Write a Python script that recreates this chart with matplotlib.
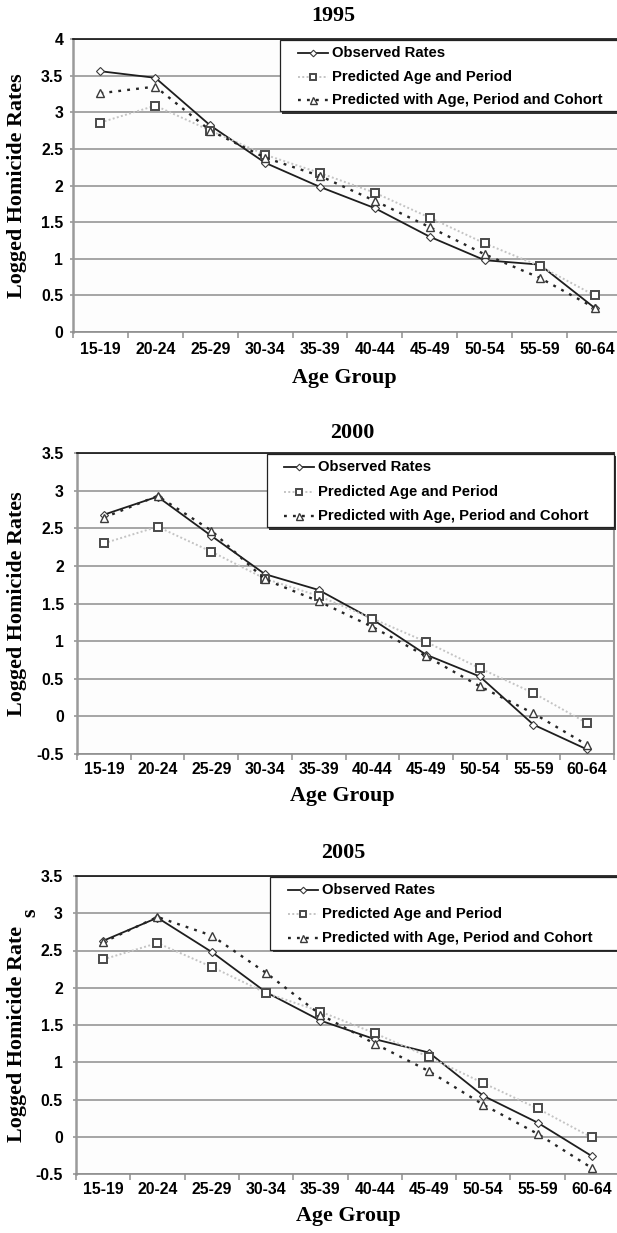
import matplotlib
matplotlib.use("Agg")
import matplotlib.pyplot as plt
from matplotlib.patches import Rectangle
from matplotlib.lines import Line2D

W, H = 617, 1233

age_groups = ["15-19", "20-24", "25-29", "30-34", "35-39",
              "40-44", "45-49", "50-54", "55-59", "60-64"]

years = ["1995", "2000", "2005"]

observed_1995 = [3.56, 3.47, 2.82, 2.31, 1.98, 1.69, 1.30, 0.98, 0.92, 0.33]
age_period_1995 = [2.86, 3.09, 2.75, 2.42, 2.17, 1.90, 1.56, 1.21, 0.90, 0.50]
apc_1995 = [3.26, 3.35, 2.75, 2.38, 2.13, 1.79, 1.43, 1.06, 0.74, 0.33]

observed_2000 = [2.68, 2.92, 2.40, 1.89, 1.68, 1.29, 0.82, 0.53, -0.11, -0.44]
age_period_2000 = [2.30, 2.52, 2.19, 1.83, 1.60, 1.30, 0.99, 0.64, 0.31, -0.09]
apc_2000 = [2.64, 2.93, 2.47, 1.82, 1.53, 1.19, 0.80, 0.40, 0.04, -0.38]

observed_2005 = [2.63, 2.94, 2.48, 1.94, 1.56, 1.31, 1.13, 0.55, 0.19, -0.26]
age_period_2005 = [2.38, 2.60, 2.28, 1.93, 1.68, 1.39, 1.07, 0.72, 0.38, -0.01]
apc_2005 = [2.61, 2.95, 2.70, 2.20, 1.64, 1.25, 0.88, 0.43, 0.04, -0.42]

yticks_1995 = [0, 0.5, 1, 1.5, 2, 2.5, 3, 3.5, 4]
yticks_later = [-0.5, 0, 0.5, 1, 1.5, 2, 2.5, 3, 3.5]
ytick_labels_1995 = ["0", "0.5", "1", "1.5", "2", "2.5", "3", "3.5", "4"]
ytick_labels_later = ["-0.5", "0", "0.5", "1", "1.5", "2", "2.5", "3", "3.5"]

legend_labels = ["Observed Rates", "Predicted Age and Period",
                 "Predicted with Age, Period and Cohort"]

SANS = ["Liberation Sans", "DejaVu Sans"]
SERIF = ["Liberation Serif", "DejaVu Serif"]

fig = plt.figure(figsize=(W / 100, H / 100), dpi=100)
fig.patch.set_facecolor("white")


def rect(l, r, t, b):
    return [l / W, 1 - b / H, (r - l) / W, (b - t) / H]


def fx(x):
    return x / W


def fy(y):
    return 1 - y / H


styles = [
    dict(color="#1e1e1e", lw=1.3, ls="-", marker="D", ms=4.2, mfc="white",
         mec="#3a3a3a", mew=0.8),
    dict(color="#c4c4c4", lw=1.4, ls=(0, (1, 1.2)), marker="s", ms=6.2,
         mfc="white", mec="#4a4a4a", mew=1.4),
    dict(color="#262626", lw=1.7, ls=(0, (1.2, 2.6)), marker="^", ms=6.3,
         mfc="white", mec="#3a3a3a", mew=1.0),
]

panels = [
    dict(box=(73, 622, 39, 332), ylim=(0, 4), yticks=yticks_1995,
         ylabels=ytick_labels_1995,
         series=[observed_1995, age_period_1995, apc_1995],
         title=years[0], title_xy=(333, 16), xlab_xy=(344, 378),
         ylab_xy=(17, 186), leg_left=0.377, xpad=7.5, ypad=4.5),
    dict(box=(77, 614, 453, 754), ylim=(-0.5, 3.5), yticks=yticks_later,
         ylabels=ytick_labels_later,
         series=[observed_2000, age_period_2000, apc_2000],
         title=years[1], title_xy=(352, 433), xlab_xy=(342, 796),
         ylab_xy=(17, 604), leg_left=0.354, xpad=6.0, ypad=7.0),
    dict(box=(76, 619, 876, 1174), ylim=(-0.5, 3.5), yticks=yticks_later,
         ylabels=ytick_labels_later,
         series=[observed_2005, age_period_2005, apc_2005],
         title=years[2], title_xy=(343, 853), xlab_xy=(348, 1216),
         ylab_xy=(17, 1034), leg_left=0.358, xpad=6.0, ypad=7.0),
]

grid_col = "#8e8e8e"
xpos = list(range(len(age_groups)))

for i, p in enumerate(panels):
    ax = fig.add_axes(rect(*p["box"]))
    ax.set_facecolor("#fdfdfd")
    ax.set_xlim(-0.5, len(age_groups) - 0.5)
    ax.set_ylim(*p["ylim"])

    for yv in p["yticks"]:
        ax.axhline(yv, color=grid_col, lw=1.1, zorder=1)

    for s, st in zip(p["series"], styles):
        ax.plot(xpos, s, zorder=3, clip_on=False, **st)

    ax.set_xticks(xpos)
    ax.set_xticklabels(age_groups, fontfamily=SANS, fontweight="bold",
                       fontsize=11.4)
    ax.set_xticks([x - 0.5 for x in range(len(age_groups) + 1)], minor=True)
    ax.tick_params(axis="x", which="major", length=0, pad=p["xpad"])
    ax.tick_params(axis="x", which="minor", length=4.5, width=1.1,
                   color=grid_col, direction="out")
    ax.set_yticks(p["yticks"])
    ax.set_yticklabels(p["ylabels"], fontfamily=SANS, fontweight="bold",
                       fontsize=11.4)
    ax.tick_params(axis="y", length=2.5, width=1.1, color=grid_col,
                   pad=p["ypad"])

    ax.spines["left"].set_color("#9a9a9a")
    ax.spines["left"].set_linewidth(1.8)
    ax.spines["bottom"].set_color(grid_col)
    ax.spines["bottom"].set_linewidth(1.2)
    ax.spines["top"].set_color("#111111")
    ax.spines["top"].set_linewidth(1.2)
    ax.spines["right"].set_color("#9a9a9a")
    ax.spines["right"].set_linewidth(1.5)

    # legend box
    left = p["leg_left"]
    top, bottom = 0.997, 0.753
    right = 1.2
    shadow = Rectangle((left + 0.004, bottom - 0.008), right - left,
                       top - bottom, transform=ax.transAxes,
                       facecolor="#333333", edgecolor="none", zorder=5,
                       clip_on=False)
    box = Rectangle((left, bottom), right - left, top - bottom,
                    transform=ax.transAxes, facecolor="white",
                    edgecolor="#222222", lw=0.9, zorder=6, clip_on=False)
    ax.add_patch(shadow)
    ax.add_patch(box)
    if i == 1:
        # right border visible for the middle panel
        box.set_width(1.0 - left)
        shadow.set_width(1.0 - left)
    rows = [0.953, 0.872, 0.792]
    for ry, st, lab in zip(rows, styles, legend_labels):
        hx0, hx1 = left + 0.032, left + 0.088
        ln = Line2D([hx0, hx1], [ry, ry], transform=ax.transAxes,
                    color=st["color"], lw=st["lw"], ls=st["ls"], zorder=7,
                    clip_on=False)
        mk = Line2D([(hx0 + hx1) / 2], [ry], transform=ax.transAxes,
                    marker=st["marker"], ms=st["ms"] * 0.8, mfc="white",
                    mec=st["mec"], mew=st["mew"], ls="none", zorder=8,
                    clip_on=False)
        ax.add_line(ln)
        ax.add_line(mk)
        ax.text(hx1 + 0.007, ry, lab, transform=ax.transAxes,
                fontfamily=SANS, fontweight="bold", fontsize=10.7,
                ha="left", va="center", zorder=9)

    fig.text(fx(p["title_xy"][0]), fy(p["title_xy"][1]), p["title"],
             fontfamily=SERIF, fontweight="bold", fontsize=15.8,
             ha="center", va="center")
    fig.text(fx(p["xlab_xy"][0]), fy(p["xlab_xy"][1]), "Age Group",
             fontfamily=SERIF, fontweight="bold", fontsize=15.8,
             ha="center", va="center")
    if i < 2:
        fig.text(fx(p["ylab_xy"][0]), fy(p["ylab_xy"][1]),
                 "Logged Homicide Rates", fontfamily=SERIF,
                 fontweight="bold", fontsize=15.8, rotation=90,
                 ha="center", va="center")
    else:
        fig.text(fx(p["ylab_xy"][0]), fy(p["ylab_xy"][1]),
                 "Logged Homicide Rate", fontfamily=SERIF,
                 fontweight="bold", fontsize=15.8, rotation=90,
                 ha="center", va="center")
        fig.text(fx(30), fy(913), "s", fontfamily=SERIF,
                 fontweight="bold", fontsize=15.8, rotation=90,
                 ha="center", va="center")

fig.savefig("out.png", dpi=100)
